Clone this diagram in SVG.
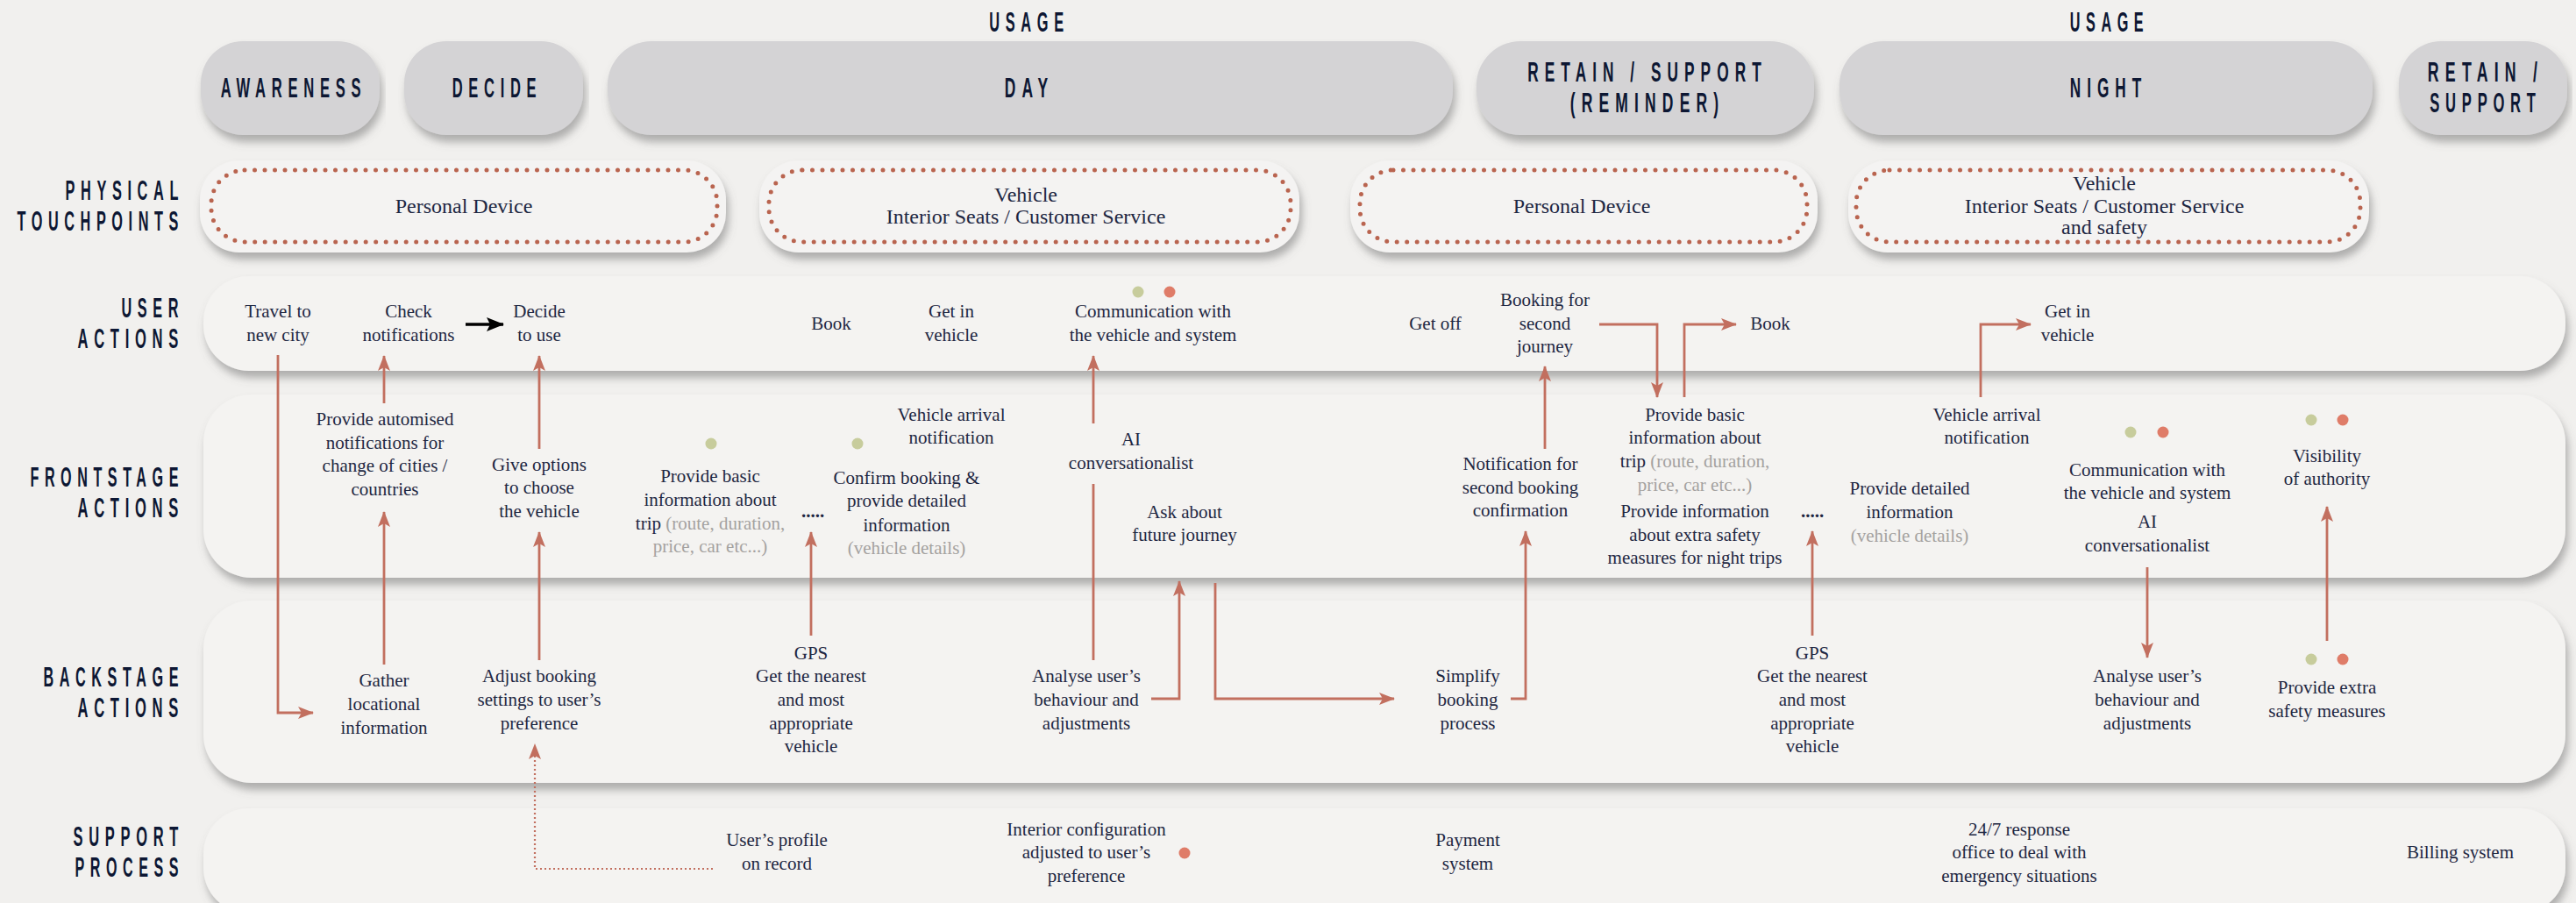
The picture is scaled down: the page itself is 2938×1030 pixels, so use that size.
<svg xmlns="http://www.w3.org/2000/svg" width="2938" height="1030" viewBox="0 0 2938 1030">
<defs>
<style>
.bg{fill:#f1f0ee}
.lane{fill:#f4f3f1}
.phase{fill:#d4d3d5}
.tpo{fill:#f4f3f2}
.tpi{fill:none;stroke:#b9644f;stroke-width:5;stroke-linecap:round;stroke-dasharray:0 11.5}
.h{font-family:"Liberation Sans",Arial,sans-serif;font-weight:700;font-size:32px;fill:#0d1733;letter-spacing:13px}
.m{text-anchor:middle}
.e{text-anchor:end}
.t{font-family:"Liberation Serif","Times New Roman",serif;font-size:21px;fill:#1e2742;text-anchor:middle}
.tp{font-size:24px}
.g{fill:#a4a2a0}
.c{fill:none;stroke:#c26f5f;stroke-width:2.8}
.cd{fill:none;stroke:#c26f5f;stroke-width:2.2;stroke-dasharray:2 3}
.cb{fill:none;stroke:#000;stroke-width:3.5}
.dg{fill:#c7cc9c}
.dr{fill:#df7c68}
</style>
<filter id="sh" x="-3%" y="-20%" width="106%" height="150%">
<feDropShadow dx="3" dy="8" stdDeviation="5" flood-color="#6b6b6b" flood-opacity="0.5"/>
</filter>
<marker id="ah" markerUnits="userSpaceOnUse" markerWidth="18" markerHeight="14" refX="17" refY="7" orient="auto">
<path d="M0,0 L18,7 L0,14 L4,7z" fill="#c26f5f"/>
</marker>
<marker id="ahb" markerUnits="userSpaceOnUse" markerWidth="20" markerHeight="16" refX="19" refY="8" orient="auto">
<path d="M0,0 L20,8 L0,16 L4,8z" fill="#000"/>
</marker>
</defs>
<rect class="bg" x="0" y="0" width="2938" height="1030"/>

<g id="lanes">
<rect class="lane" filter="url(#sh)" x="232" y="315" width="2694" height="108" rx="52"/>
<rect class="lane" filter="url(#sh)" x="232" y="450" width="2694" height="209" rx="55"/>
<rect class="lane" filter="url(#sh)" x="232" y="685" width="2694" height="208" rx="55"/>
<rect class="lane" filter="url(#sh)" x="232" y="922" width="2694" height="120" rx="52"/>
</g>

<g id="lane-labels">
<text class="h e" transform="translate(210,228) scale(0.5,1)" textLength="271" lengthAdjust="spacingAndGlyphs">PHYSICAL</text>
<text class="h e" transform="translate(210,263) scale(0.5,1)" textLength="381" lengthAdjust="spacingAndGlyphs">TOUCHPOINTS</text>
<text class="h e" transform="translate(210,362) scale(0.5,1)" textLength="143" lengthAdjust="spacingAndGlyphs">USER</text>
<text class="h e" transform="translate(210,397) scale(0.5,1)" textLength="243" lengthAdjust="spacingAndGlyphs">ACTIONS</text>
<text class="h e" transform="translate(210,555) scale(0.5,1)" textLength="351" lengthAdjust="spacingAndGlyphs">FRONTSTAGE</text>
<text class="h e" transform="translate(210,590) scale(0.5,1)" textLength="243" lengthAdjust="spacingAndGlyphs">ACTIONS</text>
<text class="h e" transform="translate(210,783) scale(0.5,1)" textLength="321" lengthAdjust="spacingAndGlyphs">BACKSTAGE</text>
<text class="h e" transform="translate(210,818) scale(0.5,1)" textLength="243" lengthAdjust="spacingAndGlyphs">ACTIONS</text>
<text class="h e" transform="translate(210,965) scale(0.5,1)" textLength="253" lengthAdjust="spacingAndGlyphs">SUPPORT</text>
<text class="h e" transform="translate(210,1000) scale(0.5,1)" textLength="249" lengthAdjust="spacingAndGlyphs">PROCESS</text>
</g>

<g id="usage-labels">
<text class="h m" transform="translate(1174,36) scale(0.5,1)" textLength="183" lengthAdjust="spacingAndGlyphs">USAGE</text>
<text class="h m" transform="translate(2406,36) scale(0.5,1)" textLength="181" lengthAdjust="spacingAndGlyphs">USAGE</text>
</g>

<g id="phase-awareness">
<rect class="phase" filter="url(#sh)" x="229" y="47" width="204" height="107" rx="48"/>
<text class="h m" transform="translate(335,111) scale(0.5,1)" textLength="333" lengthAdjust="spacingAndGlyphs">AWARENESS</text>
</g>
<g id="phase-decide">
<rect class="phase" filter="url(#sh)" x="461" y="47" width="204" height="107" rx="48"/>
<text class="h m" transform="translate(567,111) scale(0.5,1)" textLength="205" lengthAdjust="spacingAndGlyphs">DECIDE</text>
</g>
<g id="phase-day">
<rect class="phase" filter="url(#sh)" x="693" y="47" width="964" height="107" rx="50"/>
<text class="h m" transform="translate(1174,111) scale(0.5,1)" textLength="113" lengthAdjust="spacingAndGlyphs">DAY</text>
</g>
<g id="phase-retain-reminder">
<rect class="phase" filter="url(#sh)" x="1684" y="47" width="385" height="107" rx="50"/>
<text class="h m" transform="translate(1879,93) scale(0.5,1)" textLength="547" lengthAdjust="spacingAndGlyphs">RETAIN / SUPPORT</text>
<text class="h m" transform="translate(1879,128) scale(0.5,1)" textLength="353" lengthAdjust="spacingAndGlyphs">(REMINDER)</text>
</g>
<g id="phase-night">
<rect class="phase" filter="url(#sh)" x="2098" y="47" width="608" height="107" rx="50"/>
<text class="h m" transform="translate(2405,111) scale(0.5,1)" textLength="177" lengthAdjust="spacingAndGlyphs">NIGHT</text>
</g>
<g id="phase-retain">
<rect class="phase" filter="url(#sh)" x="2736" y="47" width="192" height="107" rx="48"/>
<text class="h m" transform="translate(2835,93) scale(0.5,1)" textLength="265" lengthAdjust="spacingAndGlyphs">RETAIN /</text>
<text class="h m" transform="translate(2835,128) scale(0.5,1)" textLength="255" lengthAdjust="spacingAndGlyphs">SUPPORT</text>
</g>

<g id="tp-1">
<rect class="tpo" filter="url(#sh)" x="228" y="183" width="600" height="105" rx="45"/>
<rect class="tpi" x="241" y="194" width="577" height="82" rx="38"/>
<text class="t tp" x="529" y="243">Personal Device</text>
</g>
<g id="tp-2">
<rect class="tpo" filter="url(#sh)" x="866" y="183" width="616" height="105" rx="45"/>
<rect class="tpi" x="877" y="194" width="595" height="82" rx="38"/>
<text class="t tp" x="1170" y="230">Vehicle</text>
<text class="t tp" x="1170" y="255">Interior Seats / Customer Service</text>
</g>
<g id="tp-3">
<rect class="tpo" filter="url(#sh)" x="1540" y="183" width="533" height="105" rx="45"/>
<rect class="tpi" x="1551" y="194" width="510" height="82" rx="38"/>
<text class="t tp" x="1804" y="243">Personal Device</text>
</g>
<g id="tp-4">
<rect class="tpo" filter="url(#sh)" x="2108" y="183" width="594" height="105" rx="45"/>
<rect class="tpi" x="2117" y="194" width="575" height="82" rx="38"/>
<text class="t tp" x="2400" y="217">Vehicle</text>
<text class="t tp" x="2400" y="243">Interior Seats / Customer Service</text>
<text class="t tp" x="2400" y="267">and safety</text>
</g>

<g id="connectors">
<path class="c" d="M317,405 V813 H357" marker-end="url(#ah)"/>
<path class="c" d="M438,758 V584" marker-end="url(#ah)"/>
<path class="c" d="M438,460 V406" marker-end="url(#ah)"/>
<path class="c" d="M615,753 V607" marker-end="url(#ah)"/>
<path class="c" d="M615,512 V406" marker-end="url(#ah)"/>
<path class="cb" d="M531,370 H574" marker-end="url(#ahb)"/>
<path class="cd" d="M813,991 H610 V862"/>
<path d="M610,848 L603,866 L610,862 L617,866z" fill="#c26f5f"/>
<path class="c" d="M925,725 V607" marker-end="url(#ah)"/>
<path class="c" d="M1247,753 V552"/>
<path class="c" d="M1247,483 V406" marker-end="url(#ah)"/>
<path class="c" d="M1313,797 H1345 V663" marker-end="url(#ah)"/>
<path class="c" d="M1386,665 V797 H1590" marker-end="url(#ah)"/>
<path class="c" d="M1723,797 H1740 V606" marker-end="url(#ah)"/>
<path class="c" d="M1762,512 V418" marker-end="url(#ah)"/>
<path class="c" d="M1824,370 H1890 V453" marker-end="url(#ah)"/>
<path class="c" d="M1921,453 V370 H1980" marker-end="url(#ah)"/>
<path class="c" d="M2259,453 V370 H2316" marker-end="url(#ah)"/>
<path class="c" d="M2067,725 V606" marker-end="url(#ah)"/>
<path class="c" d="M2449,647 V750" marker-end="url(#ah)"/>
<path class="c" d="M2654,731 V578" marker-end="url(#ah)"/>
</g>

<g id="u-travel"><text class="t"><tspan x="317" y="362">Travel to</tspan><tspan x="317" y="389">new city</tspan></text></g>
<g id="u-check"><text class="t"><tspan x="466" y="362">Check</tspan><tspan x="466" y="389">notifications</tspan></text></g>
<g id="u-decide"><text class="t"><tspan x="615" y="362">Decide</tspan><tspan x="615" y="389">to use</tspan></text></g>
<g id="u-book-1"><text class="t" x="948" y="376">Book</text></g>
<g id="u-getin-1"><text class="t"><tspan x="1085" y="362">Get in</tspan><tspan x="1085" y="389">vehicle</tspan></text></g>
<g id="u-comm">
<circle class="dg" cx="1298" cy="333" r="6.5"/><circle class="dr" cx="1334" cy="333" r="6.5"/>
<text class="t"><tspan x="1315" y="362">Communication with</tspan><tspan x="1315" y="389">the vehicle and system</tspan></text></g>
<g id="u-getoff"><text class="t" x="1637" y="376">Get off</text></g>
<g id="u-booking2"><text class="t"><tspan x="1762" y="349">Booking for</tspan><tspan x="1762" y="376">second</tspan><tspan x="1762" y="402">journey</tspan></text></g>
<g id="u-book-2"><text class="t" x="2019" y="376">Book</text></g>
<g id="u-getin-2"><text class="t"><tspan x="2358" y="362">Get in</tspan><tspan x="2358" y="389">vehicle</tspan></text></g>

<g id="f-automised"><text class="t"><tspan x="439" y="485">Provide automised</tspan><tspan x="439" y="512">notifications for</tspan><tspan x="439" y="538">change of cities /</tspan><tspan x="439" y="565">countries</tspan></text></g>
<g id="f-options"><text class="t"><tspan x="615" y="537">Give options</tspan><tspan x="615" y="563">to choose</tspan><tspan x="615" y="590">the vehicle</tspan></text></g>
<g id="f-basic-1">
<circle class="dg" cx="811" cy="506" r="6.5"/>
<text class="t"><tspan x="810" y="550">Provide basic</tspan><tspan x="810" y="577">information about</tspan><tspan x="810" y="604">trip <tspan class="g">(route, duration,</tspan></tspan><tspan class="g" x="810" y="630">price, car etc...)</tspan></text></g>
<g id="f-dots-1"><text class="t" x="927" y="590" font-weight="700">.....</text></g>
<g id="f-confirm">
<circle class="dg" cx="978" cy="506" r="6.5"/>
<text class="t"><tspan x="1034" y="552">Confirm booking &amp;</tspan><tspan x="1034" y="578">provide detailed</tspan><tspan x="1034" y="606">information</tspan><tspan class="g" x="1034" y="632">(vehicle details)</tspan></text></g>
<g id="f-arrival-1"><text class="t"><tspan x="1085" y="480">Vehicle arrival</tspan><tspan x="1085" y="506">notification</tspan></text></g>
<g id="f-ai-1"><text class="t"><tspan x="1290" y="508">AI</tspan><tspan x="1290" y="535">conversationalist</tspan></text></g>
<g id="f-ask"><text class="t"><tspan x="1351" y="591">Ask about</tspan><tspan x="1351" y="617">future journey</tspan></text></g>
<g id="f-notif2"><text class="t"><tspan x="1734" y="536">Notification for</tspan><tspan x="1734" y="563">second booking</tspan><tspan x="1734" y="589">confirmation</tspan></text></g>
<g id="f-basic-2"><text class="t"><tspan x="1933" y="480">Provide basic</tspan><tspan x="1933" y="506">information about</tspan><tspan x="1933" y="533">trip <tspan class="g">(route, duration,</tspan></tspan><tspan class="g" x="1933" y="560">price, car etc...)</tspan></text></g>
<g id="f-safety"><text class="t"><tspan x="1933" y="590">Provide information</tspan><tspan x="1933" y="617">about extra safety</tspan><tspan x="1933" y="643">measures for night trips</tspan></text></g>
<g id="f-dots-2"><text class="t" x="2067" y="590" font-weight="700">.....</text></g>
<g id="f-detailed"><text class="t"><tspan x="2178" y="564">Provide detailed</tspan><tspan x="2178" y="591">information</tspan><tspan class="g" x="2178" y="618">(vehicle details)</tspan></text></g>
<g id="f-arrival-2"><text class="t"><tspan x="2266" y="480">Vehicle arrival</tspan><tspan x="2266" y="506">notification</tspan></text></g>
<g id="f-comm-2">
<circle class="dg" cx="2430" cy="493" r="6.5"/><circle class="dr" cx="2467" cy="493" r="6.5"/>
<text class="t"><tspan x="2449" y="543">Communication with</tspan><tspan x="2449" y="569">the vehicle and system</tspan></text></g>
<g id="f-ai-2"><text class="t"><tspan x="2449" y="602">AI</tspan><tspan x="2449" y="629">conversationalist</tspan></text></g>
<g id="f-visibility">
<circle class="dg" cx="2636" cy="479" r="6.5"/><circle class="dr" cx="2672" cy="479" r="6.5"/>
<text class="t"><tspan x="2654" y="527">Visibility</tspan><tspan x="2654" y="553">of authority</tspan></text></g>

<g id="b-gather"><text class="t"><tspan x="438" y="783">Gather</tspan><tspan x="438" y="810">locational</tspan><tspan x="438" y="837">information</tspan></text></g>
<g id="b-adjust"><text class="t"><tspan x="615" y="778">Adjust booking</tspan><tspan x="615" y="805">settings to user’s</tspan><tspan x="615" y="832">preference</tspan></text></g>
<g id="b-gps-1"><text class="t"><tspan x="925" y="752">GPS</tspan><tspan x="925" y="778">Get the nearest</tspan><tspan x="925" y="805">and most</tspan><tspan x="925" y="832">appropriate</tspan><tspan x="925" y="858">vehicle</tspan></text></g>
<g id="b-analyse-1"><text class="t"><tspan x="1239" y="778">Analyse user’s</tspan><tspan x="1239" y="805">behaviour and</tspan><tspan x="1239" y="832">adjustments</tspan></text></g>
<g id="b-simplify"><text class="t"><tspan x="1674" y="778">Simplify</tspan><tspan x="1674" y="805">booking</tspan><tspan x="1674" y="832">process</tspan></text></g>
<g id="b-gps-2"><text class="t"><tspan x="2067" y="752">GPS</tspan><tspan x="2067" y="778">Get the nearest</tspan><tspan x="2067" y="805">and most</tspan><tspan x="2067" y="832">appropriate</tspan><tspan x="2067" y="858">vehicle</tspan></text></g>
<g id="b-analyse-2"><text class="t"><tspan x="2449" y="778">Analyse user’s</tspan><tspan x="2449" y="805">behaviour and</tspan><tspan x="2449" y="832">adjustments</tspan></text></g>
<g id="b-extra">
<circle class="dg" cx="2636" cy="752" r="6.5"/><circle class="dr" cx="2672" cy="752" r="6.5"/>
<text class="t"><tspan x="2654" y="791">Provide extra</tspan><tspan x="2654" y="818">safety measures</tspan></text></g>

<g id="s-profile"><text class="t"><tspan x="886" y="965">User’s profile</tspan><tspan x="886" y="992">on record</tspan></text></g>
<g id="s-interior">
<circle class="dr" cx="1351" cy="973" r="6.5"/>
<text class="t"><tspan x="1239" y="953">Interior configuration</tspan><tspan x="1239" y="979">adjusted to user’s</tspan><tspan x="1239" y="1006">preference</tspan></text></g>
<g id="s-payment"><text class="t"><tspan x="1674" y="965">Payment</tspan><tspan x="1674" y="992">system</tspan></text></g>
<g id="s-response"><text class="t"><tspan x="2303" y="953">24/7 response</tspan><tspan x="2303" y="979">office to deal with</tspan><tspan x="2303" y="1006">emergency situations</tspan></text></g>
<g id="s-billing"><text class="t" x="2806" y="979">Billing system</text></g>
</svg>
